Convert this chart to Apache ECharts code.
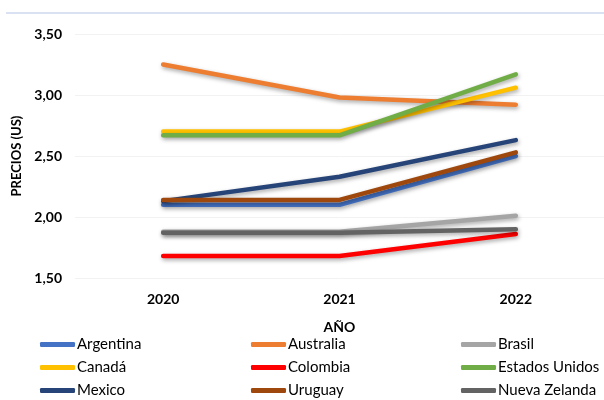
<!DOCTYPE html>
<html>
<head>
<meta charset="utf-8">
<script src="https://cdn.jsdelivr.net/npm/echarts@6/dist/echarts.min.js"></script>
<style>
  html, body { margin: 0; padding: 0; background: #fff; }
  #chart { width: 604px; height: 400px; }
</style>
</head>
<body>
<div id="chart"></div>
<script>
// Años
const years = ['2020', '2021', '2022'];

// Precios por país (US)
const argentina = [2.10, 2.10, 2.50];
const australia = [3.25, 2.98, 2.92];
const brasil = [1.88, 1.88, 2.01];
const canada = [2.70, 2.70, 3.06];
const colombia = [1.68, 1.68, 1.86];
const estadosUnidos = [2.67, 2.67, 3.17];
const mexico = [2.13, 2.33, 2.63];
const uruguay = [2.14, 2.14, 2.53];
const nuevaZelanda = [1.87, 1.87, 1.90];

const countryNames = ['Argentina', 'Australia', 'Brasil', 'Canadá', 'Colombia',
  'Estados Unidos', 'Mexico', 'Uruguay', 'Nueva Zelanda'];
const countryValues = [argentina, australia, brasil, canada, colombia,
  estadosUnidos, mexico, uruguay, nuevaZelanda];
const countryColors = ['#4472C4', '#ED7D31', '#A5A5A5', '#FFC000', '#FF0000',
  '#70AD47', '#264478', '#9E480E', '#636363'];

const FONT = 'Lato';

const chart = echarts.init(document.getElementById('chart'));

const series = countryNames.map((name, i) => ({
  name: name,
  type: 'line',
  data: countryValues[i],
  symbol: 'none',
  color: countryColors[i],
  lineStyle: {
    width: 4.5,
    cap: 'round',
    join: 'round',
    shadowColor: 'rgba(0,0,0,0.35)',
    shadowBlur: 4,
    shadowOffsetX: 1,
    shadowOffsetY: 2
  },
  emphasis: { disabled: true }
}));

// One vertical legend column per group of three countries
function legendColumn(names, left) {
  return {
    orient: 'vertical',
    left: left,
    top: 337,
    height: 63,
    padding: 0,
    data: names,
    itemWidth: 35,
    itemHeight: 5,
    itemGap: 8,
    icon: 'roundRect',
    textStyle: { fontFamily: FONT, fontSize: 15, lineHeight: 15, color: '#000', padding: [0, 0, 0, -3] }
  };
}

chart.setOption({
  animation: false,
  backgroundColor: '#fff',
  graphic: [{
    type: 'line',
    shape: { x1: 6, y1: 13, x2: 604, y2: 13 },
    style: { stroke: '#D9E1F2', lineWidth: 2 }
  }],
  grid: { left: 75, right: -14, top: 34, bottom: 122 },
  legend: [
    legendColumn(['Argentina', 'Canadá', 'Mexico'], 40),
    legendColumn(['Australia', 'Colombia', 'Uruguay'], 251),
    legendColumn(['Brasil', 'Estados Unidos', 'Nueva Zelanda'], 461)
  ],
  xAxis: {
    type: 'category',
    data: years,
    boundaryGap: true,
    name: 'AÑO',
    nameLocation: 'middle',
    nameGap: 42,
    nameTextStyle: { fontFamily: FONT, fontSize: 14, fontWeight: 'bold', color: '#000' },
    axisLine: { show: false },
    axisTick: { show: false },
    axisLabel: { fontFamily: FONT, fontSize: 14, fontWeight: 'bold', color: '#000', margin: 14 }
  },
  yAxis: {
    type: 'value',
    min: 1.5,
    max: 3.5,
    interval: 0.5,
    name: 'PRECIOS (US)',
    nameLocation: 'middle',
    nameGap: 52,
    nameTextStyle: { fontFamily: FONT, fontSize: 13, fontWeight: 'bold', color: '#000' },
    axisLine: { show: false },
    axisTick: { show: false },
    splitLine: { lineStyle: { color: '#F2F2F2', width: 1 } },
    axisLabel: {
      fontFamily: FONT, fontSize: 14, fontWeight: 'bold', color: '#000', margin: 13,
      formatter: v => v.toFixed(2).replace('.', ',')
    }
  },
  series: series
});
</script>
</body>
</html>
